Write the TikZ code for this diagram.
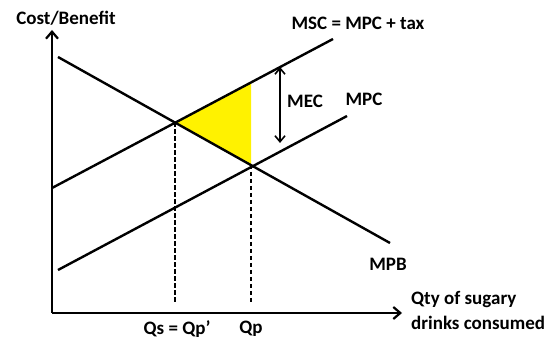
\documentclass[tikz,border=0pt]{standalone}
\usepackage{fontspec}
\setmainfont{Carlito}
\usetikzlibrary{arrows.meta}
\begin{document}
\begin{tikzpicture}[x=1pt,y=-1pt,
  axis/.style={line width=2.6pt,-{Straight Barb[length=7pt,width=12pt,line width=2.2pt]}},
  curve/.style={line width=2.4pt},
  guide/.style={line width=1.4pt,dash pattern=on 4.5pt off 2.5pt},
  lbl/.style={font=\bfseries\fontsize{19}{21}\selectfont,inner sep=0pt},
  mec/.style={line width=1.8pt,{Straight Barb[length=6pt,width=10pt,line width=1.6pt]}-{Straight Barb[length=6pt,width=10pt,line width=1.6pt]}}]
\useasboundingbox (0,0) rectangle (550,342);
% key points
\coordinate (O) at (52,313);
\coordinate (ytop) at (52,30);
\coordinate (xend) at (402,313);
\coordinate (mpbA) at (58,57);
\coordinate (mpbB) at (390,243);
\coordinate (mpcA) at (58,270);
\coordinate (mpcB) at (347,116);
\coordinate (mscA) at (52,188);
\coordinate (mscB) at (333,39);
\coordinate (S) at (175,122.5);
\coordinate (T) at (251,82);
\coordinate (E) at (251,165);
\coordinate (Sb) at (175,304);
\coordinate (Eb) at (251,304);
\coordinate (m1) at (280,67);
\coordinate (m2) at (280,143);
% triangle
\fill[yellow] (S) -- (T) -- (E) -- cycle;
% curves
\draw[curve] (mpbA) -- (mpbB);
\draw[curve] (mpcA) -- (mpcB);
\draw[curve] (mscA) -- (mscB);
% guides
\draw[guide] (S) -- (Sb);
\draw[guide] (E) -- (Eb);
% MEC arrow
\draw[mec] (m1) -- (m2);
% axes
\draw[axis] (O) -- (ytop);
\draw[axis] (O) -- (xend);
% labels
\node[lbl] (ylab) at (66,18) {Cost/Benefit};
\node[lbl] (msclab) at (358,23) {MSC = MPC + tax};
\node[lbl] (meclab) at (305,101) {MEC};
\node[lbl] (mpclab) at (364,99) {MPC};
\node[lbl] (mpblab) at (388,264) {MPB};
\node[lbl,anchor=west] (xlab1) at (411,300) {Qty of sugary};
\node[lbl,anchor=west] (xlab2) at (411,323) {drinks consumed};
\node[lbl] (qs) at (177,329) {Qs = Qp’};
\node[lbl] (qp) at (251,329) {Qp};
\end{tikzpicture}
\end{document}
